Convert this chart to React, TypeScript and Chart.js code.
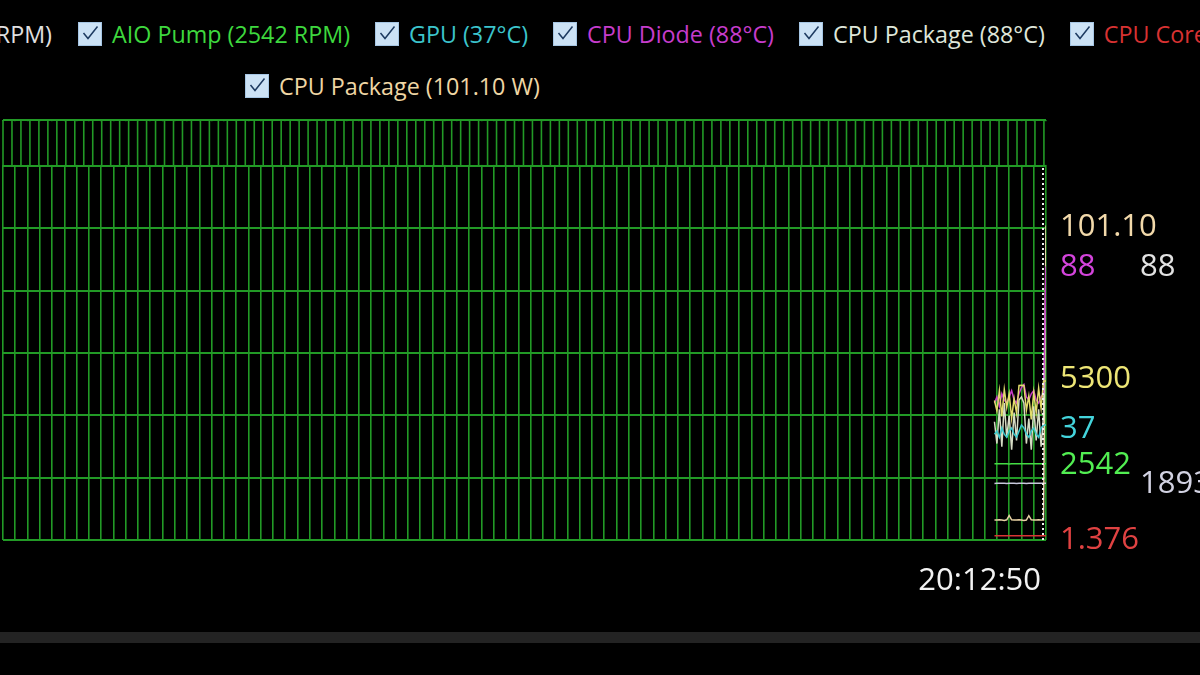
import React, { useEffect, useRef } from 'react';
import { Chart, registerables } from 'chart.js';

Chart.register(...registerables);

// ---- data ----
const timeLabel = '20:12:50';
const sampleTimes = [-4.2, -4.0, -3.8, -3.6, -3.4, -3.2, -3.0, -2.8, -2.6, -2.4, -2.2, -2.0, -1.8, -1.6, -1.4, -1.2, -1.0, -0.8, -0.6, -0.4, -0.2, 0];

const coreClock = [4650, 4300, 4980, 4120, 5020, 4420, 4880, 4060, 4720, 4230, 5150, 5160, 5150, 4320, 4800, 4020, 4920, 4240, 5060, 4380, 5300, 5300];
const aioPump = [2538, 2540, 2542, 2539, 2544, 2542, 2537, 2540, 2543, 2539, 2541, 2543, 2538, 2540, 2545, 2542, 2538, 2541, 2544, 2540, 2542, 2542];
const gpuTemp = [34, 35, 33, 36, 34, 33, 35, 36, 34, 33, 35, 37, 36, 34, 33, 35, 36, 34, 33, 36, 37, 37];
const cpuDiode = [44, 46, 43, 47, 45, 44, 46, 48, 45, 44, 47, 49, 50, 46, 45, 47, 48, 45, 44, 46, 47, 88];
const cpuPackageTemp = [38, 31, 42, 30, 44, 33, 40, 29, 41, 32, 45, 46, 44, 31, 39, 29, 43, 32, 42, 30, 40, 88];
const coreVoltage = [1.368, 1.372, 1.370, 1.374, 1.371, 1.369, 1.373, 1.370, 1.372, 1.375, 1.371, 1.369, 1.372, 1.374, 1.370, 1.373, 1.371, 1.369, 1.372, 1.374, 1.375, 1.376];
const packagePower = [6.4, 6.4, 6.5, 6.4, 6.3, 6.5, 7.9, 6.5, 6.4, 6.4, 6.5, 6.4, 6.3, 6.4, 7.8, 6.5, 6.4, 6.4, 6.5, 6.4, 6.4, 101.1];
const cpuFan = [1885, 1890, 1888, 1893, 1890, 1886, 1889, 1892, 1890, 1887, 1891, 1893, 1889, 1886, 1890, 1892, 1888, 1891, 1893, 1890, 1892, 1893];

const seriesValues = [coreClock, aioPump, gpuTemp, cpuDiode, cpuPackageTemp, coreVoltage, packagePower, cpuFan];
const seriesNames = ['CPU Core Clock', 'AIO Pump', 'GPU', 'CPU Diode', 'CPU Package', 'CPU Core Voltage', 'CPU Package', 'CPU Fan'];
const seriesUnits = [' MHz', ' RPM', '°C', '°C', '°C', ' V', ' W', ' RPM'];
const seriesDecimals = [0, 0, 0, 0, 0, 3, 2, 0];
const seriesAxis = ['yRpm', 'yRpm', 'yUnits', 'yUnits', 'yUnits', 'yUnits', 'yUnits', 'yRpm'];

const legendRow1 = [1, 2, 3, 4, 5];
const legendRow2 = [6];
const legendCut = 7;

// ---- styles ----
const lineColors = ['#e2dc6c', '#44dc44', '#3cc8cc', '#c83cc8', '#d6dcc4', '#d83434', '#e8d2a4', '#c8c8dc'];
const labelColors = ['#eee676', '#52ee52', '#44d4dc', '#d444dc', '#e2e2e2', '#e04242', '#f2d9aa', '#d2d2e2'];
const legendColors = ['#e2dc6c', '#3ed83e', '#3cc4cc', '#c63ccc', '#dfe6da', '#d83232', '#efd6a4', '#e0e0e0'];
const labelNudge = [-3, 0, 3, 0, 0, 3, 1, 0];
const gridGreen = '#229a26';
const gridRowValues = [0, 1, 2, 3, 4, 5, 6, 6.74];
const bandStep = 0.7313;
const FONT = '"Open Sans", "Noto Sans", sans-serif';

const lastIdx = sampleTimes.length - 1;
const fmt = (i: number) => seriesValues[i][lastIdx].toFixed(seriesDecimals[i]);

const topBandPlugin = {
  id: 'topBand',
  beforeDatasetsDraw(chart: any) {
    const { ctx, chartArea, scales } = chart;
    const yTop = scales.yGrid.getPixelForValue(6.74);
    const yBot = scales.yGrid.getPixelForValue(6);
    ctx.save();
    ctx.fillStyle = '#000';
    ctx.fillRect(chartArea.left - 1, yTop + 1.2, chartArea.right - chartArea.left + 2, yBot - yTop - 2.4);
    ctx.strokeStyle = gridGreen;
    ctx.lineWidth = 1.6;
    const xs = scales.x;
    for (let v = xs.min; v <= xs.max + 1e-6; v += bandStep) {
      const x = xs.getPixelForValue(v);
      ctx.beginPath();
      ctx.moveTo(x, yTop);
      ctx.lineTo(x, yBot);
      ctx.stroke();
    }
    ctx.restore();
  },
};

const cursorPlugin = {
  id: 'cursor',
  afterDatasetsDraw(chart: any) {
    const { ctx, scales } = chart;
    const x = scales.x.getPixelForValue(sampleTimes[lastIdx]) - 3;
    const y0 = scales.yGrid.getPixelForValue(6) + 2;
    const y1 = scales.yGrid.getPixelForValue(0);
    ctx.save();
    ctx.strokeStyle = '#f0f0f0';
    ctx.lineWidth = 2;
    ctx.setLineDash([2, 3]);
    ctx.beginPath();
    ctx.moveTo(x, y0);
    ctx.lineTo(x, y1);
    ctx.stroke();
    ctx.restore();
  },
};

const valueLabelPlugin = {
  id: 'valueLabels',
  afterDraw(chart: any) {
    const { ctx, scales } = chart;
    const placed: number[] = [];
    ctx.save();
    ctx.font = `31px ${FONT}`;
    ctx.textBaseline = 'middle';
    ctx.textAlign = 'left';
    seriesValues.forEach((vals, i) => {
      const y = scales[seriesAxis[i]].getPixelForValue(vals[lastIdx]);
      const clash = placed.some((p) => Math.abs(p - y) < 30);
      if (!clash) placed.push(y);
      ctx.fillStyle = labelColors[i];
      ctx.fillText(fmt(i), clash ? 1140 : 1060, y + 1 + labelNudge[i]);
    });
    ctx.restore();
  },
};

const Check = () => (
  <svg width="24" height="24" style={{ flex: 'none', display: 'block' }}>
    <rect x="0.5" y="0.5" width="23" height="23" fill="#cce2f5" stroke="#a6c6e4" />
    <polyline points="5.5,11 10,16.5 19.5,4.5" fill="none" stroke="#1d3a60" strokeWidth="1.5" />
  </svg>
);

const LegendItem = ({ i }: { i: number }) => (
  <div style={{ display: 'flex', alignItems: 'center', gap: 10, whiteSpace: 'nowrap', height: 24 }}>
    <Check />
    <span style={{ color: legendColors[i], font: `23.3px ${FONT}`, lineHeight: '24px' }}>
      {`${seriesNames[i]} (${fmt(i)}${seriesUnits[i]})`}
    </span>
  </div>
);

export default function App() {
  const ref = useRef<HTMLCanvasElement>(null);

  useEffect(() => {
    const datasets = seriesValues.map((vals, i) => ({
      label: seriesNames[i],
      data: vals.map((v, k) => ({ x: sampleTimes[k], y: v })),
      yAxisID: seriesAxis[i],
      borderColor: lineColors[i],
      backgroundColor: lineColors[i],
      borderWidth: 1.5,
      pointRadius: 0,
      tension: 0,
    }));
    const chart = new Chart(ref.current as HTMLCanvasElement, {
      type: 'line',
      data: { datasets },
      options: {
        animation: false,
        responsive: false,
        layout: { padding: { left: 3, right: 154, top: 10, bottom: 0 } },
        plugins: { legend: { display: false }, tooltip: { enabled: false } },
        scales: {
          x: {
            type: 'linear',
            min: -85,
            max: 0,
            ticks: {
              stepSize: 1,
              autoSkip: false,
              maxRotation: 0,
              minRotation: 0,
              align: 'end',
              padding: 23,
              labelOffset: -5,
              color: '#f2f2f2',
              font: { family: FONT, size: 31 },
              callback: (v: any) => (v === 0 ? timeLabel : ''),
            },
            grid: { color: gridGreen, lineWidth: 1.6, drawTicks: false },
            border: { display: false },
            afterFit: (a: any) => { a.height = 80; a.paddingLeft = 0; a.paddingRight = 0; },
          },
          yGrid: {
            position: 'left',
            min: 0,
            max: 6.74,
            afterBuildTicks: (a: any) => { a.ticks = gridRowValues.map((value) => ({ value })); },
            ticks: { display: false },
            grid: { color: gridGreen, lineWidth: 2, drawTicks: false },
            border: { display: false },
            afterFit: (a: any) => { a.width = 0; a.paddingTop = 0; a.paddingBottom = 0; },
          },
          yUnits: { display: false, min: 0, max: 135 },
          yRpm: { display: false, min: 0, max: 14000 },
        },
      } as any,
      plugins: [topBandPlugin, cursorPlugin, valueLabelPlugin],
    });
    return () => chart.destroy();
  }, []);

  return (
    <div style={{ position: 'fixed', left: 0, top: 0, width: 1200, height: 675, background: '#000', overflow: 'hidden' }}>
      <div style={{ position: 'absolute', right: 1148, top: 22, display: 'flex' }}>
        <LegendItem i={legendCut} />
      </div>
      <div style={{ position: 'absolute', left: 78, top: 22, display: 'flex', gap: 25 }}>
        {legendRow1.map((i) => <LegendItem key={i} i={i} />)}
      </div>
      <div style={{ position: 'absolute', left: 245, top: 74, display: 'flex', gap: 25 }}>
        {legendRow2.map((i) => <LegendItem key={i} i={i} />)}
      </div>
      <div style={{ position: 'absolute', left: 0, top: 110 }}>
        <canvas ref={ref} width={1200} height={510} style={{ display: 'block', width: 1200, height: 510 }} />
      </div>
      <div style={{ position: 'absolute', left: 0, top: 632, width: 1200, height: 11, background: '#232323' }} />
    </div>
  );
}
